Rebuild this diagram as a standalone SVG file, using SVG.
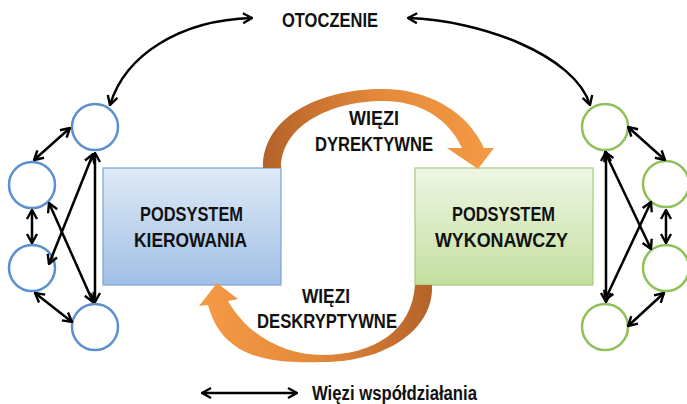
<svg xmlns="http://www.w3.org/2000/svg" width="687" height="404" viewBox="0 0 687 404">
<style>
  .t { font-family: "Liberation Sans", Arial, sans-serif; font-weight: bold; font-size: 20px; fill: #111; }
  .cb { fill: #fff; stroke: #5b8fd0; stroke-width: 2.5; }
  .cg { fill: #fff; stroke: #8fc05a; stroke-width: 2.5; }
  .ln { fill: none; stroke: #000; stroke-width: 2.5; marker-start: url(#ah); marker-end: url(#ah); }
</style>
<defs>
  <marker id="ah" viewBox="0 0 14 14" refX="13" refY="7" markerWidth="14" markerHeight="14" markerUnits="userSpaceOnUse" orient="auto-start-reverse">
    <path d="M4,2 L13,7 L4,12" fill="none" stroke="#000" stroke-width="2.4" stroke-linejoin="miter"/>
  </marker>
  <linearGradient id="gBlue" x1="0" y1="0" x2="0" y2="1">
    <stop offset="0" stop-color="#dfeaf6"/>
    <stop offset="1" stop-color="#a0bfe5"/>
  </linearGradient>
  <linearGradient id="gGreen" x1="0" y1="0" x2="0" y2="1">
    <stop offset="0" stop-color="#eef6e4"/>
    <stop offset="1" stop-color="#c4dfa0"/>
  </linearGradient>
  <linearGradient id="gOrTop" x1="263" y1="0" x2="494" y2="0" gradientUnits="userSpaceOnUse">
    <stop offset="0" stop-color="#b4622a"/>
    <stop offset="0.5" stop-color="#e3893a"/>
    <stop offset="1" stop-color="#f59a45"/>
  </linearGradient>
  <linearGradient id="gOrBot" x1="434" y1="0" x2="199" y2="0" gradientUnits="userSpaceOnUse">
    <stop offset="0" stop-color="#b4622a"/>
    <stop offset="0.5" stop-color="#e3893a"/>
    <stop offset="1" stop-color="#f59a45"/>
  </linearGradient>
</defs>

<g id="otoczenie">
  <text class="t" x="282" y="27" textLength="96" lengthAdjust="spacingAndGlyphs">OTOCZENIE</text>
</g>

<g id="podsystem-kierowania">
  <rect x="103" y="168" width="178" height="117" fill="url(#gBlue)" stroke="#7aa3d6" stroke-width="1.2"/>
  <text class="t" x="140" y="221" textLength="103" lengthAdjust="spacingAndGlyphs">PODSYSTEM</text>
  <text class="t" x="134" y="247" textLength="113" lengthAdjust="spacingAndGlyphs">KIEROWANIA</text>
</g>

<g id="podsystem-wykonawczy">
  <rect x="415" y="168" width="178" height="117" fill="url(#gGreen)" stroke="#a6cc7a" stroke-width="1.2"/>
  <text class="t" x="452" y="221" textLength="103" lengthAdjust="spacingAndGlyphs">PODSYSTEM</text>
  <text class="t" x="435" y="247" textLength="133" lengthAdjust="spacingAndGlyphs">WYKONAWCZY</text>
</g>

<g id="left-nodes">
  <circle id="l1" class="cb" cx="95" cy="127" r="23"/>
  <circle id="l2" class="cb" cx="32" cy="185" r="23"/>
  <circle id="l3" class="cb" cx="32" cy="268" r="23"/>
  <circle id="l4" class="cb" cx="95" cy="327" r="23"/>
</g>

<g id="right-nodes">
  <circle id="r1" class="cg" cx="605" cy="127" r="23"/>
  <circle id="r2" class="cg" cx="666" cy="184" r="23"/>
  <circle id="r3" class="cg" cx="666" cy="268" r="23"/>
  <circle id="r4" class="cg" cx="605" cy="327" r="23"/>
</g>

<g id="connectors">
  <path class="ln" d="M110,105 C125,55 180,20 252,18"/>
  <path class="ln" d="M408,18 C480,20 575,55 590,105"/>
  <line class="ln" x1="70" y1="128" x2="34" y2="160"/>
  <line class="ln" x1="32" y1="210" x2="32" y2="243"/>
  <line class="ln" x1="35" y1="293" x2="72" y2="322"/>
  <line class="ln" x1="95" y1="153" x2="95" y2="302"/>
  <line class="ln" x1="93" y1="154" x2="49" y2="264"/>
  <line class="ln" x1="49" y1="203" x2="93" y2="302"/>
  <line class="ln" x1="628" y1="127" x2="665" y2="160"/>
  <line class="ln" x1="666" y1="210" x2="666" y2="243"/>
  <line class="ln" x1="664" y1="293" x2="628" y2="326"/>
  <line class="ln" x1="606" y1="152" x2="606" y2="302"/>
  <line class="ln" x1="605" y1="152" x2="651" y2="249"/>
  <line class="ln" x1="651" y1="202" x2="605" y2="300"/>
  <line class="ln" x1="202" y1="393" x2="297" y2="393"/>
</g>

<g id="wiezi-dyrektywne">
  <path d="M263,168 C262,118 318,89 383,89 C428,89 468,112 484,148 L494,148 L478,169 L447,148 L462,148 C448,118 420,101 383,101 C330,101 281,126 281,168 Z" fill="url(#gOrTop)"/>
  <text class="t" x="349" y="125" textLength="50" lengthAdjust="spacingAndGlyphs">WIĘZI</text>
  <text class="t" x="315" y="151" textLength="118" lengthAdjust="spacingAndGlyphs">DYREKTYWNE</text>
</g>

<g id="wiezi-deskryptywne">
  <path d="M432,285 C434,330 385,362 322,362 C265,364 222,356 208,305 L199,306 L217,283 L238,299 L228,301 C248,336 285,355 322,355 C375,355 412,330 415,285 Z" fill="url(#gOrBot)"/>
  <text class="t" x="302" y="303" textLength="48" lengthAdjust="spacingAndGlyphs">WIĘZI</text>
  <text class="t" x="257" y="328" textLength="140" lengthAdjust="spacingAndGlyphs">DESKRYPTYWNE</text>
</g>

<g id="legend">
  <text class="t" x="312" y="400" textLength="165" lengthAdjust="spacingAndGlyphs">Więzi współdziałania</text>
</g>
</svg>
